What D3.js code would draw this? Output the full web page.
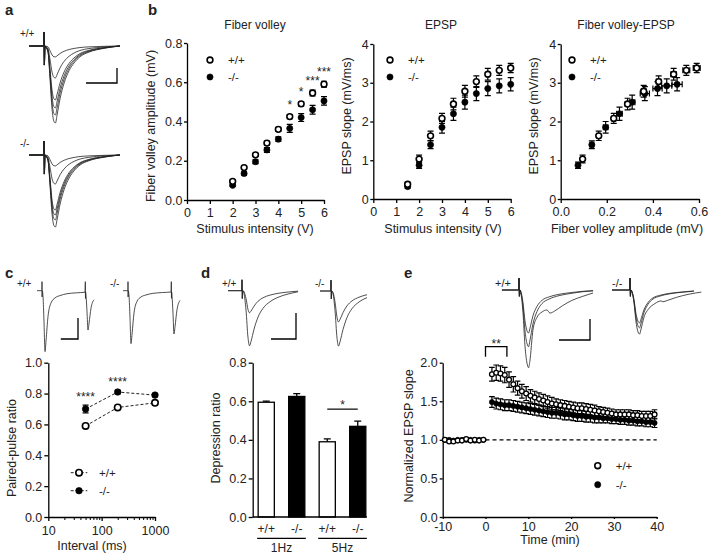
<!DOCTYPE html>
<html>
<head>
<meta charset="utf-8">
<script src="https://cdn.jsdelivr.net/npm/d3@7"></script>
<style>
body { margin: 0; background: #fff; }
text { font-family: "Liberation Sans", Arial, sans-serif; fill: #222; }
</style>
</head>
<body>
<svg id="fig" width="709" height="556"></svg>
<script>
// ---------- data ----------
// b: input-output
const stimTicks = [0, 1, 2, 3, 4, 5, 6];
const fvTicks = [0, 0.2, 0.4, 0.6, 0.8];
const slopeTicks = [0, 1, 2, 3, 4];
const fvAmpTicks = [0, 0.2, 0.4, 0.6];

const fvStim = [2, 2.5, 3, 3.5, 4, 4.5, 5, 5.5, 6];
const fvWT = [0.095, 0.165, 0.23, 0.29, 0.36, 0.425, 0.49, 0.545, 0.59];
const fvWTerr = [0.006, 0.008, 0.008, 0.01, 0.01, 0.01, 0.012, 0.015, 0.015];
const fvKO = [0.075, 0.135, 0.195, 0.255, 0.31, 0.365, 0.42, 0.46, 0.505];
const fvKOerr = [0.006, 0.008, 0.01, 0.012, 0.012, 0.02, 0.02, 0.022, 0.022];
const fvStars = ["", "", "", "", "", "*", "*", "***", "***"];

const epspStim = [1.5, 2, 2.5, 3, 3.5, 4, 4.5, 5, 5.5, 6];
const epspWT = [0.38, 1.03, 1.63, 2.08, 2.45, 2.78, 3.03, 3.22, 3.32, 3.38];
const epspWTerr = [0.05, 0.1, 0.12, 0.13, 0.15, 0.15, 0.15, 0.15, 0.13, 0.12];
const epspKO = [0.32, 0.87, 1.40, 1.85, 2.20, 2.50, 2.72, 2.85, 2.92, 2.96];
const epspKOerr = [0.04, 0.08, 0.1, 0.15, 0.17, 0.18, 0.18, 0.18, 0.18, 0.17];

// c: paired-pulse
const ppMajor = [10, 100, 1000];
const ppMinor = [20, 30, 40, 50, 60, 70, 80, 90, 200, 300, 400, 500, 600, 700, 800, 900];
const ratioTicks = [0, 0.2, 0.4, 0.6, 0.8, 1.0];
const ppInterval = [50, 200, 1000];
const ppWT = [0.59, 0.71, 0.74];
const ppWTerr = [0.01, 0.01, 0.01];
const ppKO = [0.70, 0.81, 0.79];
const ppKOerr = [0.025, 0.01, 0.01];
const ppStars = ["****", "****", ""];

// d: depression
const depTicks = [0, 0.2, 0.4, 0.6, 0.8];
const depLabels = ["+/+", "-/-", "+/+", "-/-"];
const depGroups = ["1Hz", "5Hz"];
const depValues = [0.595, 0.625, 0.39, 0.47];
const depErr = [0.006, 0.015, 0.015, 0.027];

// e: LTP time course
const timeTicks = [-10, 0, 10, 20, 30, 40];
const normTicks = [0, 0.5, 1.0, 1.5, 2.0];
const ltpBaseTime = [-9.5, -8.5, -7.5, -6.5, -5.5, -4.5, -3.5, -2.5, -1.5, -0.5];
const ltpBaseWT = [1.00, 0.98, 0.98, 0.99, 0.99, 1.01, 0.99, 1.00, 0.99, 1.00];
const ltpBaseKO = [1.00, 1.00, 0.99, 1.00, 1.00, 1.00, 1.00, 0.99, 1.00, 1.00];
const ltpBaseErr = [0.01, 0.01, 0.01, 0.01, 0.01, 0.02, 0.01, 0.01, 0.01, 0.01];
const ltpTime = [1.5, 2.5, 3.5, 4.5, 5.5, 6.5, 7.5, 8.5, 9.5, 10.5, 11.5, 12.5, 13.5,
  14.5, 15.5, 16.5, 17.5, 18.5, 19.5, 20.5, 21.5, 22.5, 23.5, 24.5, 25.5, 26.5,
  27.5, 28.5, 29.5, 30.5, 31.5, 32.5, 33.5, 34.5, 35.5, 36.5, 37.5, 38.5, 39.5];
const ltpWT = [1.85, 1.87, 1.86, 1.84, 1.78, 1.72, 1.67, 1.63, 1.60, 1.57, 1.55, 1.53, 1.51,
  1.49, 1.47, 1.46, 1.45, 1.44, 1.43, 1.42, 1.41, 1.41, 1.40, 1.39, 1.38, 1.37,
  1.36, 1.35, 1.34, 1.33, 1.33, 1.33, 1.33, 1.32, 1.32, 1.31, 1.31, 1.31, 1.33];
const ltpWTerr = [0.09, 0.1, 0.1, 0.1, 0.1, 0.1, 0.09, 0.09, 0.09, 0.08, 0.08, 0.08, 0.08,
  0.08, 0.08, 0.07, 0.07, 0.07, 0.07, 0.07, 0.07, 0.07, 0.07, 0.07, 0.07, 0.06,
  0.06, 0.06, 0.06, 0.06, 0.06, 0.06, 0.06, 0.06, 0.06, 0.06, 0.06, 0.06, 0.06];
const ltpKO = [1.49, 1.47, 1.46, 1.45, 1.45, 1.44, 1.43, 1.42, 1.41, 1.40, 1.39, 1.38, 1.37,
  1.36, 1.35, 1.35, 1.34, 1.33, 1.33, 1.32, 1.31, 1.31, 1.30, 1.30, 1.29, 1.29,
  1.28, 1.28, 1.27, 1.27, 1.26, 1.26, 1.25, 1.25, 1.24, 1.24, 1.23, 1.23, 1.22];
const ltpKOerr = [0.07, 0.07, 0.07, 0.07, 0.07, 0.07, 0.07, 0.07, 0.07, 0.07, 0.07, 0.07, 0.07,
  0.07, 0.07, 0.07, 0.07, 0.07, 0.07, 0.07, 0.07, 0.07, 0.07, 0.07, 0.07, 0.07,
  0.06, 0.06, 0.06, 0.06, 0.06, 0.06, 0.06, 0.06, 0.06, 0.06, 0.06, 0.06, 0.06];

// example traces: [ms, fraction of peak] shapes and peaks (mV)
const ioShape = [[0.65, 0.02], [1.3, 0.08], [1.9, 0.4], [2.6, 0.82], [3.2, 0.98], [3.7, 1], [4.2, 0.9],
  [5.2, 0.68], [6.5, 0.48], [8.1, 0.32], [9.7, 0.22], [11.6, 0.14], [14.5, 0.08], [19.4, 0.03], [24.5, 0]];
const ioPeakWT = [0.73, 2.13, 3.6, 4.13, 4.6, 5.13];
const ioPeakKO = [0.73, 1.93, 3.67, 4.0, 4.33, 4.8];
const ioArt = [0.93, 1.27];

const ppShape = [[1.2, 0.1], [2.3, 0.5], [3.5, 1], [4.7, 0.82], [7, 0.42], [10.5, 0.2], [15, 0.12],
  [21, 0.08], [29, 0.05], [40, 0.035], [50, 0.025]];
const ppPeakWT = [2.9, 1.8];
const ppPeakKO = [2.52, 2.0];
const ppArt = [0.43, 0.3];

const dShape = [[0.8, 0.05], [1.6, 0.35], [2.4, 0.85], [3, 1], [3.6, 0.92], [4.8, 0.7], [6.4, 0.48],
  [8.4, 0.32], [11.2, 0.2], [14.4, 0.12], [18.4, 0.06], [22.4, 0.02]];
const dPeakWT = [0.85, 2.12];
const dPeakKO = [1.19, 2.12];
const dArt = [0.42, 0.3];

const eShape = [[0.65, 0.05], [1.3, 0.3], [1.9, 0.7], [2.6, 0.95], [3.1, 1], [3.5, 0.9], [4.5, 0.6],
  [5.8, 0.38], [7.4, 0.24], [9.7, 0.16], [12.9, 0.1], [16.8, 0.06], [20.6, 0.03], [23.9, 0.015]];
const ePeakWT = [2.7, 2.05];
const ePeakKO = [1.8, 1.57];
const eLateWT = [[0.65, -0.2], [1.3, -1.1], [1.9, -2.6], [2.6, -3.5], [3.1, -3.7], [3.5, -3.4], [4.5, -1.9],
  [5.8, -1.3], [7.4, -1.05], [9, -0.95], [10, -1.1], [11.5, -1.0], [14, -0.75], [17, -0.5], [20.6, -0.3], [23.9, -0.14]];
const eLateKO = [[0.65, -0.1], [1.3, -0.63], [1.9, -1.47], [2.6, -2.0], [3.1, -2.1], [3.5, -1.9], [4.5, -1.3],
  [6, -0.9], [8, -0.65], [10, -0.52], [10.6, -0.56], [12, -0.5], [15, -0.35], [19, -0.2], [23, -0.1]];
const eArt = [0.57, 0.3];

// ---------- helpers ----------
const svg = d3.select("#fig");
const TICK = 12.5, LAB = 12.5;
const f1 = d3.format(".1f");
const fInt = d => String(d);   // plain hyphen for negatives, like the figure

function axis(gen, tx, ty) {
  const a = svg.append("g").attr("transform", `translate(${tx},${ty})`).call(gen);
  a.attr("font-size", TICK).attr("font-family", null);
  a.selectAll("text").attr("fill", "#222");
  a.selectAll(".domain, .tick line").attr("stroke", "#000").attr("stroke-width", 1.3);
  return a;
}

function text(x, y, s, size, anchor, weight) {
  return svg.append("text").attr("x", x).attr("y", y).attr("font-size", size || LAB)
    .attr("text-anchor", anchor || "middle").attr("font-weight", weight || null).text(s);
}

function vtext(x, y, s) {
  return svg.append("text").attr("transform", `translate(${x},${y}) rotate(-90)`)
    .attr("font-size", LAB).attr("text-anchor", "middle").text(s);
}

function drawPoints(x, y, xs, ys, o) {
  const pts = xs.map((v, i) => ({cx: x(v), cy: y(ys[i]), i}));
  const cap = o.cap || 3;
  const eg = svg.append("g").attr("stroke", "#000").attr("stroke-width", 1.2).attr("fill", "none");
  pts.forEach(p => {
    if (o.err) {
      const y0 = y(ys[p.i] - o.err[p.i]), y1 = y(ys[p.i] + o.err[p.i]);
      eg.append("path").attr("d", `M${p.cx},${y0}V${y1}M${p.cx - cap},${y0}H${p.cx + cap}M${p.cx - cap},${y1}H${p.cx + cap}`);
    }
    if (o.xerr) {
      const x0 = x(xs[p.i] - o.xerr[p.i]), x1 = x(xs[p.i] + o.xerr[p.i]);
      eg.append("path").attr("d", `M${x0},${p.cy}H${x1}M${x0},${p.cy - cap}V${p.cy + cap}M${x1},${p.cy - cap}V${p.cy + cap}`);
    }
  });
  svg.append("g").selectAll("circle").data(pts).join("circle")
    .attr("cx", d => d.cx).attr("cy", d => d.cy)
    .attr("r", o.filled ? (o.r || 3) : (o.r || 3) - 0.5)
    .attr("fill", o.filled ? "#000" : "#fff").attr("stroke", "#000")
    .attr("stroke-width", o.filled ? 0.6 : (o.sw || 1.6));
}

function legendItem(cx, cy, filled, label, r) {
  svg.append("circle").attr("cx", cx).attr("cy", cy).attr("r", filled ? r : r - 0.5)
    .attr("fill", filled ? "#000" : "#fff").attr("stroke", "#000").attr("stroke-width", filled ? 0.6 : 1.6);
  text(cx + 18, cy + 4, label, 11.5, "start");
}

// trace helpers: x in ms, y in mV
function tracePanel(ox, oy, pxPerMs, pxPerMv) {
  return {
    x: d3.scaleLinear().domain([0, 10]).range([ox, ox + 10 * pxPerMs]),
    y: d3.scaleLinear().domain([0, 1]).range([oy, oy - pxPerMv])
  };
}
function withStim(pre, art, pts) {
  return [[-pre, 0], [-0.1, 0], [0, art[0]], [0.12, -art[1]], [0.3, 0]].concat(pts);
}
function evoked(pre, art, shape, peak, tEnd) {
  return withStim(pre, art, shape.filter(d => d[0] <= tEnd).map(d => [d[0], -peak * d[1]]));
}
function pairedPulse(pre, art, shape, peaks, isi, tail) {
  const pts = evoked(pre, art, shape, peaks[0], isi);
  const res = pts[pts.length - 1][1];
  pts.push([isi + 0.4, art[0]], [isi + 0.55, res - art[1]], [isi + 0.75, res]);
  shape.filter(d => d[0] <= tail).forEach(d => pts.push([isi + d[0], res - peaks[1] * d[1]]));
  return pts;
}
const traceLine = sc => d3.line().x(d => sc.x(d[0])).y(d => sc.y(d[1])).curve(d3.curveMonotoneX);
function drawTrace(sc, pts) {
  svg.append("path").datum(pts).attr("d", traceLine(sc))
    .attr("fill", "none").attr("stroke", "#222").attr("stroke-width", 0.8);
}
function scaleBar(sc, cx, cy, ms, mv) {
  const w = sc.x(ms) - sc.x(0), h = sc.y(0) - sc.y(mv);
  svg.append("path").attr("d", `M${cx - w},${cy}H${cx}V${cy - h}`)
    .attr("fill", "none").attr("stroke", "#000").attr("stroke-width", 1.3);
}

// ---------- panel labels ----------
text(5, 15, "a", 15, "start", "bold");
text(148, 15, "b", 15, "start", "bold");
text(5, 278, "c", 15, "start", "bold");
text(201, 278, "d", 15, "start", "bold");
text(404, 278, "e", 15, "start", "bold");

// ---------- a: traces ----------
const aWT = tracePanel(44, 46, 3.1, 15), aKO = tracePanel(44, 155, 3.1, 15);
ioPeakWT.forEach(p => drawTrace(aWT, evoked(4.8, ioArt, ioShape, p, 25)));
ioPeakKO.forEach(p => drawTrace(aKO, evoked(4.8, ioArt, ioShape, p, 25)));
scaleBar(aWT, 117, 83, 10, 1);
text(20, 37, "+/+", 10, "start");
text(20, 147, "-/-", 10, "start");

// ---------- b1: fiber volley ----------
const b1 = {x: d3.scaleLinear().domain([0, 6]).range([187, 324]), y: d3.scaleLinear().domain([0, 0.8]).range([200, 43])};
axis(d3.axisBottom(b1.x).tickValues(stimTicks).tickFormat(fInt).tickSize(4).tickPadding(4).tickSizeOuter(0), 0, b1.y(0));
axis(d3.axisLeft(b1.y).tickValues(fvTicks).tickFormat(f1).tickSize(3).tickPadding(1.5).tickSizeOuter(0), b1.x(0), 0);
drawPoints(b1.x, b1.y, fvStim, fvKO, {err: fvKOerr, filled: true, r: 3.1});
drawPoints(b1.x, b1.y, fvStim, fvWT, {err: fvWTerr, r: 3.4});
fvStim.forEach((v, i) => { if (fvStars[i]) text(b1.x(v), b1.y(fvWT[i]) - 8, fvStars[i], 12); });
legendItem(210, 60, false, "+/+", 3.4);
legendItem(210, 77, true, "-/-", 3.1);
text(255, 28.5, "Fiber volley", 12);
text(255, 233, "Stimulus intensity (V)");
vtext(155, 126, "Fiber volley amplitude (mV)");

// ---------- b2: EPSP ----------
const b2 = {x: d3.scaleLinear().domain([0, 6]).range([373.3, 510.7]), y: d3.scaleLinear().domain([0, 4]).range([199, 44])};
axis(d3.axisBottom(b2.x).tickValues(stimTicks).tickFormat(fInt).tickSize(4).tickPadding(4).tickSizeOuter(0), 0, b2.y(0));
axis(d3.axisLeft(b2.y).tickValues(slopeTicks).tickFormat(fInt).tickSize(3).tickPadding(1.5).tickSizeOuter(0), b2.x(0), 0);
drawPoints(b2.x, b2.y, epspStim, epspKO, {err: epspKOerr, filled: true, r: 3.1});
drawPoints(b2.x, b2.y, epspStim, epspWT, {err: epspWTerr, r: 3.4});
legendItem(390, 60, false, "+/+", 3.4);
legendItem(390, 77, true, "-/-", 3.1);
text(441, 28.5, "EPSP", 12);
text(443, 233, "Stimulus intensity (V)");
vtext(351, 116, "EPSP slope (mV/ms)");

// ---------- b3: fiber volley vs EPSP ----------
const b3 = {x: d3.scaleLinear().domain([0, 0.6]).range([560.7, 699]), y: d3.scaleLinear().domain([0, 4]).range([199, 44])};
axis(d3.axisBottom(b3.x).tickValues(fvAmpTicks).tickFormat(f1).tickSize(4).tickPadding(4).tickSizeOuter(0), 0, b3.y(0));
axis(d3.axisLeft(b3.y).tickValues(slopeTicks).tickFormat(fInt).tickSize(3).tickPadding(1.5).tickSizeOuter(0), b3.x(0), 0);
drawPoints(b3.x, b3.y, fvKO, epspKO.slice(1), {err: epspKOerr.slice(1), xerr: fvKOerr, filled: true, r: 3.1});
drawPoints(b3.x, b3.y, fvWT, epspWT.slice(1), {err: epspWTerr.slice(1), xerr: fvWTerr, r: 3.4});
legendItem(572, 60, false, "+/+", 3.4);
legendItem(572, 77, true, "-/-", 3.1);
text(626, 28.5, "Fiber volley-EPSP", 12);
text(627, 233, "Fiber volley amplitude (mV)");
vtext(538, 116, "EPSP slope (mV/ms)");

// ---------- c: paired pulse ----------
const cWTt = tracePanel(42, 290.7, 0.86, 21), cKOt = tracePanel(128, 290.7, 0.86, 21);
drawTrace(cWTt, pairedPulse(5.8, ppArt, ppShape, ppPeakWT, 50, 14));
drawTrace(cKOt, pairedPulse(5.8, ppArt, ppShape, ppPeakKO, 50, 14));
scaleBar(cWTt, 78, 339, 20, 1);
text(17, 287, "+/+", 10, "start");
text(110, 287, "-/-", 10, "start");

const c = {x: d3.scaleLog().domain([10, 1000]).range([48.3, 155]), y: d3.scaleLinear().domain([0, 1]).range([517, 362.7])};
const cx = axis(d3.axisBottom(c.x).tickValues(ppMajor.concat(ppMinor))
  .tickFormat(d => ppMajor.includes(d) ? d : "").tickSize(4).tickPadding(5).tickSizeOuter(0), 0, c.y(0));
cx.selectAll(".tick").filter(d => !ppMajor.includes(d)).select("line").attr("y2", 3).attr("stroke-width", 1);
axis(d3.axisLeft(c.y).tickValues(ratioTicks).tickFormat(f1).tickSize(4).tickPadding(2).tickSizeOuter(0), c.x(10), 0);
const dashLine = d3.line().x(d => c.x(d[0])).y(d => c.y(d[1]));
[ppKO, ppWT].forEach(s => svg.append("path").datum(ppInterval.map((v, i) => [v, s[i]]))
  .attr("d", dashLine).attr("fill", "none").attr("stroke", "#222").attr("stroke-width", 1).attr("stroke-dasharray", "3,2"));
drawPoints(c.x, c.y, ppInterval, ppKO, {err: ppKOerr, filled: true, r: 3.3});
drawPoints(c.x, c.y, ppInterval, ppWT, {r: 3.7});
ppInterval.forEach((v, i) => { if (ppStars[i]) text(c.x(v), c.y(ppKO[i] + ppKOerr[i]) - 4, ppStars[i], 12); });
[[472.7, false, "+/+"], [490.7, true, "-/-"]].forEach(([ly, filled, lab]) => {
  svg.append("path").attr("d", `M70.7,${ly}H87.3`).attr("stroke", "#222").attr("stroke-dasharray", "3,2");
  svg.append("circle").attr("cx", 79).attr("cy", ly).attr("r", filled ? 3.3 : 3.2)
    .attr("fill", filled ? "#000" : "#fff").attr("stroke", "#000").attr("stroke-width", filled ? 0.6 : 1.6);
  text(99, ly + 4, lab, 11.5, "start");
});
text(92, 549.5, "Interval (ms)");
vtext(16, 448, "Paired-pulse ratio");

// ---------- d: depression ----------
const dWTt = tracePanel(242, 290.7, 2.5, 26), dKOt = tracePanel(331, 291, 2.5, 26);
dPeakWT.forEach(p => drawTrace(dWTt, evoked(5.6, dArt, dShape, p, 22.4)));
dPeakKO.forEach(p => drawTrace(dKOt, evoked(4.4, dArt, dShape, p, 17)));
scaleBar(dWTt, 296, 339, 10, 1);
text(222, 287, "+/+", 10, "start");
text(315, 287, "-/-", 10, "start");

const dd = {x: d3.scaleBand().domain(d3.range(depValues.length)).range([251, 373]).paddingInner(0.47).paddingOuter(0.235),
  y: d3.scaleLinear().domain([0, 0.8]).range([517, 362.7])};
const bw = dd.x.bandwidth();
axis(d3.axisLeft(dd.y).tickValues(depTicks).tickFormat(f1).tickSize(4).tickPadding(2).tickSizeOuter(0), 252.7, 0);
depValues.forEach((v, i) => {
  const xc = dd.x(i) + bw / 2;
  svg.append("path").attr("d", `M${xc},${dd.y(v)}V${dd.y(v + depErr[i])}M${xc - 3.5},${dd.y(v + depErr[i])}H${xc + 3.5}`)
    .attr("stroke", "#000").attr("stroke-width", 1.3);
});
svg.append("g").selectAll("rect").data(depValues).join("rect")
  .attr("x", (v, i) => dd.x(i)).attr("width", bw)
  .attr("y", v => dd.y(v)).attr("height", v => dd.y(0) - dd.y(v))
  .attr("fill", (v, i) => depLabels[i] === "-/-" ? "#000" : "#fff")
  .attr("stroke", "#000").attr("stroke-width", 1.3);
svg.append("path").attr("d", `M252.7,${dd.y(0)}H${dd.x(3) + bw + 1}`).attr("stroke", "#000").attr("stroke-width", 1.3);
depLabels.forEach((l, i) => text(dd.x(i) + bw / 2, 533, l, 12));
depGroups.forEach((gname, gi) => {
  const x0 = dd.x(gi * 2) - 1, x1 = dd.x(gi * 2 + 1) + bw + 1;
  svg.append("path").attr("d", `M${x0},538.3H${x1}`).attr("stroke", "#000").attr("stroke-width", 1.2);
  text((x0 + x1) / 2, 552, gname, 12);
});
const sigY = dd.y(depValues[3] + depErr[3]) - 12;
svg.append("path").attr("d", `M${dd.x(2) + bw / 2},${sigY}H${dd.x(3) + bw / 2}`).attr("stroke", "#000").attr("stroke-width", 1.2);
text((dd.x(2) + dd.x(3) + bw) / 2, sigY, "*", 12);
vtext(219.5, 438, "Depression ratio");

// ---------- e: LTP ----------
const eWTt = tracePanel(519, 290, 3.1, 21), eKOt = tracePanel(630, 290, 3.1, 21);
ePeakWT.forEach(p => drawTrace(eWTt, evoked(5.5, eArt, eShape, p, 24)));
drawTrace(eWTt, withStim(5.5, eArt, eLateWT));
ePeakKO.forEach(p => drawTrace(eKOt, evoked(5.8, eArt, eShape, p, 23.2)));
drawTrace(eKOt, withStim(5.8, eArt, eLateKO));
scaleBar(eWTt, 590, 340, 10, 1);
text(495, 287, "+/+", 11, "start");
text(612, 287, "-/-", 11, "start");

const e = {x: d3.scaleLinear().domain([-10, 40]).range([442.7, 656.7]), y: d3.scaleLinear().domain([0, 2]).range([517, 362.7])};
axis(d3.axisBottom(e.x).tickValues(timeTicks).tickFormat(fInt).tickSize(2).tickPadding(3).tickSizeOuter(0), 0, e.y(0));
axis(d3.axisLeft(e.y).tickValues(normTicks).tickFormat(f1).tickSize(3).tickPadding(2).tickSizeOuter(0), e.x(-10), 0);
svg.append("path").attr("d", `M${e.x(0)},${e.y(1)}H${e.x(40)}`)
  .attr("stroke", "#000").attr("stroke-width", 1.2).attr("stroke-dasharray", "4,3");
drawPoints(e.x, e.y, ltpBaseTime.concat(ltpTime), ltpBaseKO.concat(ltpKO), {err: ltpBaseErr.concat(ltpKOerr), filled: true, r: 2.6, cap: 2.8});
drawPoints(e.x, e.y, ltpBaseTime.concat(ltpTime), ltpBaseWT.concat(ltpWT), {err: ltpBaseErr.concat(ltpWTerr), r: 2.9, sw: 1.3, cap: 2.8});
const brY = e.y(2) - 16;
svg.append("path").attr("d", `M${e.x(0)},${brY + 10}V${brY}H${e.x(5)}V${brY + 10}`)
  .attr("fill", "none").attr("stroke", "#000").attr("stroke-width", 1.3);
text((e.x(0) + e.x(5)) / 2, brY + 1.5, "**", 12);
legendItem(597.7, 465.7, false, "+/+", 3.4);
legendItem(597.7, 484.7, true, "-/-", 3.1);
text(550, 543.5, "Time (min)");
vtext(413, 436, "Normalized EPSP slope");
</script>
</body>
</html>
